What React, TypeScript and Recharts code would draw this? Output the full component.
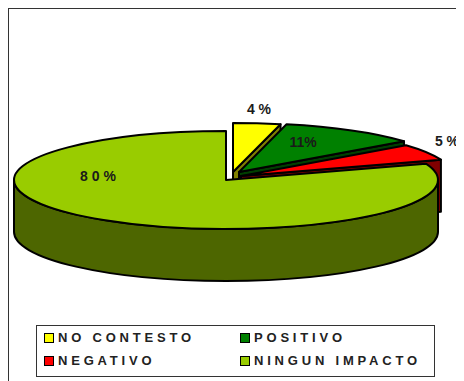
import { PieChart, Pie, Legend } from "recharts"

const categories = ["NO CONTESTO", "POSITIVO", "NEGATIVO", "NINGUN IMPACTO"]
const shares = [3.6, 10.6, 5.4, 80.4]
const percentLabels = ["4 %", "11%", "5 %", "8 0 %"]

const topColors = ["#ffff00", "#008000", "#ff0000", "#99cc00"]
const sideColors = ["#808000", "#004000", "#800000", "#4d6600"]
const sliceOffsets = [
  [7, -8],
  [13, -8],
  [15, -4],
  [0, 0],
]
const labelSpots = [
  [250, 105],
  [294, 138],
  [438, 137],
  [89, 172],
]
const legendOrder = [0, 1, 2, 3]

const data = categories.map((name, i) => ({ name, value: shares[i], idx: i }))

const SQUASH = 0.231
const DEPTH = 52
const RAD = Math.PI / 180

// flat wedge drawn on an ellipse, plus its side walls
function Slice3D(props: any) {
  const { cx, cy, outerRadius, startAngle, endAngle, payload } = props
  const i = payload.idx
  const ox = cx + sliceOffsets[i][0]
  const oy = cy + sliceOffsets[i][1]
  const rx = outerRadius
  const ry = outerRadius * SQUASH
  const px = (a: number) => ox + rx * Math.cos(a * RAD)
  const py = (a: number) => oy - ry * Math.sin(a * RAD)
  const large = Math.abs(endAngle - startAngle) > 180 ? 1 : 0
  const top = `M${ox},${oy} L${px(startAngle)},${py(startAngle)} A${rx},${ry} 0 ${large} 1 ${px(endAngle)},${py(endAngle)} Z`

  const walls: string[] = []
  // the visible front wall is the part of the rim between 0 and -180 degrees
  const a1 = Math.min(startAngle, 0)
  const a2 = Math.max(endAngle, -180)
  if (a1 > a2) {
    walls.push(
      `M${px(a1)},${py(a1)} A${rx},${ry} 0 0 1 ${px(a2)},${py(a2)} L${px(a2)},${py(a2) + DEPTH} A${rx},${ry} 0 0 0 ${px(a1)},${py(a1) + DEPTH} Z`
    )
  }
  // cut face at the clockwise end, only the small slices show it
  if (i < 3) {
    const e = endAngle
    walls.push(`M${ox},${oy} L${px(e)},${py(e)} L${px(e)},${py(e) + DEPTH} L${ox},${oy + DEPTH} Z`)
  }

  return (
    <g>
      {walls.map((d, k) => (
        <path key={k} d={d} fill={sideColors[i]} stroke="#000" strokeWidth={2} strokeLinejoin="round" />
      ))}
      <path d={top} fill={topColors[i]} stroke="#000" strokeWidth={2} strokeLinejoin="round" />
    </g>
  )
}

function PercentLabel(props: any) {
  const i = props.payload.idx
  return (
    <text x={labelSpots[i][0]} y={labelSpots[i][1]} textAnchor="middle" fontFamily="Liberation Sans" fontWeight="bold" fontSize={14} fill="#1a1a1a">
      {percentLabels[i]}
    </text>
  )
}

function LegendBox() {
  return (
    <div
      style={{
        width: 399,
        height: 52,
        boxSizing: "border-box",
        border: "1px solid #333",
        background: "#fff",
        display: "grid",
        gridTemplateColumns: "196px 1fr",
        gridAutoRows: "23px",
        padding: "0 0 0 7px",
        fontFamily: "Liberation Sans",
        fontWeight: "bold",
        fontSize: 13,
        letterSpacing: "3.8px",
        color: "#222",
        whiteSpace: "nowrap",
      }}
    >
      {legendOrder.map((i) => (
        <div key={i} style={{ display: "flex", alignItems: "center" }}>
          <span style={{ width: 8, height: 8, background: topColors[i], border: "1.5px solid #000", marginRight: 4, flex: "none" }} />
          {categories[i]}
        </div>
      ))}
    </div>
  )
}

export default function App() {
  return (
    <div style={{ width: 456, height: 373, boxSizing: "border-box", borderLeft: "1px solid #333", borderTop: "1px solid #333", position: "relative" }}>
      <PieChart width={455} height={372} margin={{ top: 0, right: 0, bottom: 0, left: 0 }} style={{ position: "absolute", left: 0, top: 0 }}>
        <Pie
          data={data}
          dataKey="value"
          cx={217}
          cy={171}
          outerRadius={212}
          startAngle={90}
          endAngle={-270}
          stroke="none"
          shape={Slice3D}
          label={PercentLabel}
          labelLine={false}
          isAnimationActive={false}
        />
        <Legend content={LegendBox} layout="horizontal" wrapperStyle={{ left: 27, top: 316, width: 399 }} />
      </PieChart>
    </div>
  )
}
